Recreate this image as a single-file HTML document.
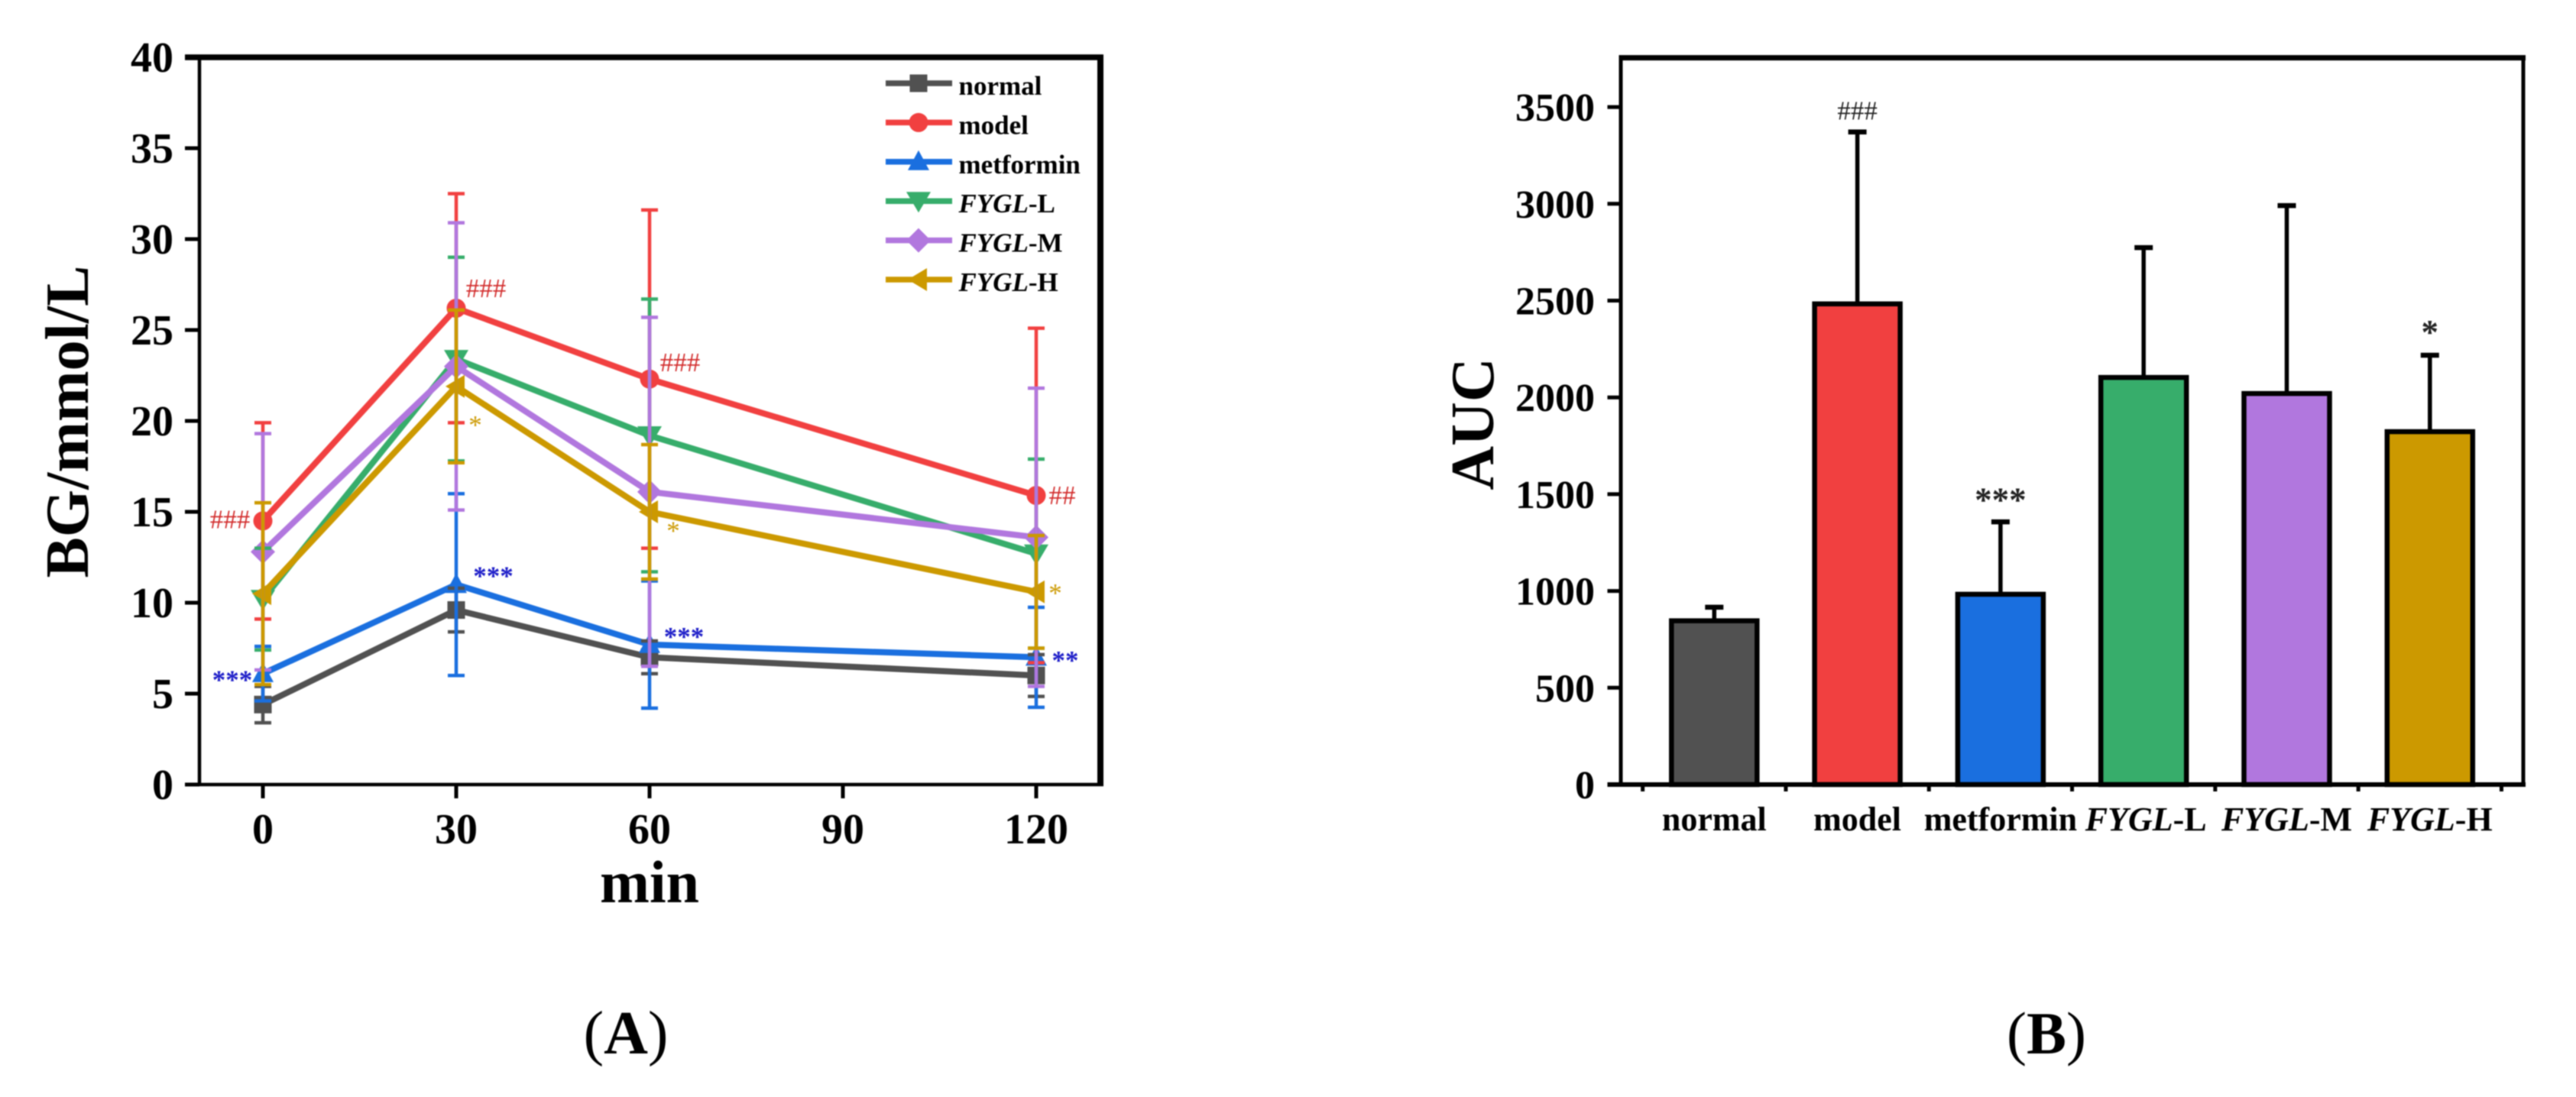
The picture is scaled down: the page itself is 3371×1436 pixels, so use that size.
<!DOCTYPE html>
<html lang="en">
<head>
<meta charset="utf-8">
<title>Blood glucose and AUC charts</title>
<style>
html,body{margin:0;padding:0;background:#fff;}
svg{display:block;font-family:"Liberation Serif",serif;filter:blur(0.7px);}
</style>
</head>
<body>
<svg id="figure" xmlns="http://www.w3.org/2000/svg" width="3371" height="1436" viewBox="0 0 3371 1436">
  <rect x="0" y="0" width="3371" height="1436" fill="#fff"/>
  <g id="panelA"></g>
  <g id="panelB"></g>
  <text transform="translate(115 552) rotate(-90)" text-anchor="middle" font-size="80" font-weight="bold">BG/mmol/L</text>
  <text x="850" y="1181" text-anchor="middle" font-size="78" font-weight="bold">min</text>
  <text transform="translate(1954 555) rotate(-90)" text-anchor="middle" font-size="80" font-weight="bold">AUC</text>
  <text x="819" y="1379" text-anchor="middle" font-size="80">(<tspan font-weight="bold">A</tspan>)</text>
  <text x="2678" y="1379" text-anchor="middle" font-size="78">(<tspan font-weight="bold">B</tspan>)</text>
</svg>
<script>
// ---- Panel A data ----
const timePoints = [0, 30, 60, 120];
const xTickValues = [0, 30, 60, 90, 120];
const yTickValuesA = [0, 5, 10, 15, 20, 25, 30, 35, 40];
const normalMean = [4.4, 9.6, 7.0, 6.0];
const normalErr = [1.0, 1.2, 0.9, 1.15];
const modelMean = [14.5, 26.2, 22.3, 15.9];
const modelErr = [5.4, 6.3, 9.3, 9.2];
const metforminMean = [6.1, 11.0, 7.7, 7.0];
const metforminErr = [1.5, 5.0, 3.5, 2.75];
const lowMean = [10.2, 23.4, 19.2, 12.7];
const lowErr = [2.8, 5.6, 7.5, 5.2];
const midMean = [12.8, 23.0, 16.1, 13.6];
const midErr = [6.5, 7.9, 9.6, 8.2];
const highMean = [10.5, 21.9, 15.0, 10.6];
const highErr = [5.0, 4.2, 3.7, 3.1];
const modelMarks = ['###', '###', '###', '##'];
const metforminMarks = ['***', '***', '***', '**'];
const highMarks = ['', '*', '*', '*'];

// ---- Panel B data ----
const barCategories = ['normal', 'model', 'metformin', 'FYGL-L', 'FYGL-M', 'FYGL-H'];
const barValues = [846, 2483, 983, 2103, 2020, 1823];
const barErrTops = [916, 3371, 1357, 2774, 2991, 2218];
const barMarks = ['', '###', '***', '', '', '*'];
const yTickValuesB = [0, 500, 1000, 1500, 2000, 2500, 3000, 3500];

const NS = 'http://www.w3.org/2000/svg';
function add(parent, tag, attrs, text) {
  const node = document.createElementNS(NS, tag);
  for (const k in attrs) node.setAttribute(k, attrs[k]);
  if (text !== undefined) node.textContent = text;
  parent.appendChild(node);
  return node;
}
function seg(parent, x1, y1, x2, y2, color, w) {
  return add(parent, 'line', {x1: x1, y1: y1, x2: x2, y2: y2, stroke: color, 'stroke-width': w});
}
function fygl(parent, label) {
  const parts = label.split('-');
  if (parts[0] === 'FYGL') {
    const a = add(parent, 'tspan', {'font-style': 'italic'}, 'FYGL');
    
    
    const b = add(parent, 'tspan', {}, '-' + parts[1]);
    
    
  } else {
    parent.textContent = label;
  }
}

// ---- Panel A axes ----
const panelA = document.getElementById('panelA');
const ax = t => 344 + t * 253 / 30;
const ay = v => 1027 - v * 23.8;

const aTop = seg(panelA, 242, ay(40), 1444, ay(40), '#000', 7.5);


const aRight = seg(panelA, 1440, ay(40), 1440, 1029, '#000', 8);


const aLeft = seg(panelA, 261, ay(40), 261, 1029, '#000', 4.5);


const aBottom = seg(panelA, 242, 1027, 1444, 1027, '#000', 4.5);



yTickValuesA.forEach(v => {
  const tick = seg(panelA, 242, ay(v), 261, ay(v), '#000', 5);
  
  
  const lab = add(panelA, 'text', {x: 227, y: ay(v) + 19, 'text-anchor': 'end', 'font-size': 56, 'font-weight': 'bold'}, String(v));
  
  
});
xTickValues.forEach(t => {
  const tick = seg(panelA, ax(t), 1027, ax(t), 1045, '#000', 5);
  
  
  const lab = add(panelA, 'text', {x: ax(t), y: 1104, 'text-anchor': 'middle', 'font-size': 56, 'font-weight': 'bold'}, String(t));
  
  
});

// ---- Panel A series ----
const seriesList = [
  {name: 'normal', label: 'normal', color: '#515151', mean: normalMean, err: normalErr, shape: 'square'},
  {name: 'model', label: 'model', color: '#F14040', mean: modelMean, err: modelErr, shape: 'circle'},
  {name: 'metformin', label: 'metformin', color: '#1A6FDF', mean: metforminMean, err: metforminErr, shape: 'up'},
  {name: 'fygl-l', label: 'FYGL-L', color: '#37AD6B', mean: lowMean, err: lowErr, shape: 'down'},
  {name: 'fygl-m', label: 'FYGL-M', color: '#B177DE', mean: midMean, err: midErr, shape: 'diamond'},
  {name: 'fygl-h', label: 'FYGL-H', color: '#CC9900', mean: highMean, err: highErr, shape: 'left'}
];
function marker(parent, shape, x, y, color) {
  if (shape === 'square') return add(parent, 'rect', {x: x - 11.5, y: y - 11.5, width: 23, height: 23, fill: color});
  if (shape === 'circle') return add(parent, 'circle', {cx: x, cy: y, r: 12.5, fill: color});
  let pts;
  if (shape === 'up') pts = [[x, y - 15], [x + 14, y + 11], [x - 14, y + 11]];
  if (shape === 'down') pts = [[x, y + 15], [x + 16, y - 12], [x - 16, y - 12]];
  if (shape === 'diamond') pts = [[x, y - 16], [x + 16, y], [x, y + 16], [x - 16, y]];
  if (shape === 'left') pts = [[x - 14, y], [x + 11, y - 15], [x + 11, y + 15]];
  return add(parent, 'polygon', {points: pts.map(p => p.join(',')).join(' '), fill: color});
}
seriesList.forEach(s => {
  const points = s.mean.map((v, i) => ax(timePoints[i]) + ',' + ay(v)).join(' ');
  const line = add(panelA, 'polyline', {points: points, fill: 'none', stroke: s.color, 'stroke-width': 8, 'stroke-linejoin': 'miter'});
  
  
  s.mean.forEach((v, i) => {
    const m = marker(panelA, s.shape, ax(timePoints[i]), ay(v), s.color);
    
    
  });
});
seriesList.forEach(s => {
  s.mean.forEach((v, i) => {
    const x = ax(timePoints[i]);
    const g = add(panelA, 'g', {});
    
    
    seg(g, x, ay(v + s.err[i]), x, ay(v - s.err[i]), s.color, 4.5);
    seg(g, x - 11, ay(v + s.err[i]), x + 11, ay(v + s.err[i]), s.color, 4.5);
    seg(g, x - 11, ay(v - s.err[i]), x + 11, ay(v - s.err[i]), s.color, 4.5);
  });
});

// ---- Panel A significance marks ----
function note(text, i, v, dx, dy, color, weight, name) {
  if (!text) return;
  const fs = 35;
  const shift = text[0] === '#' ? 0.33 * fs : 0.47 * fs;
  const n = add(panelA, 'text', {x: ax(timePoints[i]) + dx, y: ay(v) + dy + shift, 'text-anchor': 'middle', 'font-size': fs, 'font-weight': weight, fill: color}, text);
  
  
}
const modelOffsets = [[-43, -2], [39, -26], [40, -22], [34, 0]];
const metforminOffsets = [[-40, 3], [48.5, -16], [45, -15], [38, -1]];
const highOffsets = [[0, 0], [25, 46], [31, 20], [25, -3]];
modelMarks.forEach((t, i) => note(t, i, modelMean[i], modelOffsets[i][0], modelOffsets[i][1], '#D22B2B', 'normal', 'model'));
metforminMarks.forEach((t, i) => note(t, i, metforminMean[i], metforminOffsets[i][0], metforminOffsets[i][1], '#1C1CC8', 'bold', 'metformin'));
highMarks.forEach((t, i) => note(t, i, highMean[i], highOffsets[i][0], highOffsets[i][1], '#CC9900', 'normal', 'fygl-h'));

// ---- Panel A legend ----
const legend = add(panelA, 'g', {});


seriesList.forEach((s, i) => {
  const y = 109 + i * 51.4;
  const row = add(legend, 'g', {});
  
  
  const sw = seg(row, 1159, y, 1246, y, s.color, 7.5);
  
  
  const mk = marker(row, s.shape, 1202, y, s.color);
  
  
  const tx = add(row, 'text', {x: 1254.5, y: y + 15, 'font-size': 35, 'font-weight': 'bold'});
  
  
  fygl(tx, s.label);
});

// ---- Panel B axes ----
const panelB = document.getElementById('panelB');
const by = v => 1027 - v * 0.2534;
const bx = i => 2243.3 + i * 187.3;
const barColors = ['#515151', '#F14040', '#1A6FDF', '#37AD6B', '#B177DE', '#CC9900'];

const bTop = seg(panelB, 2118.5, 75.6, 3305, 75.6, '#000', 7);


const bRight = seg(panelB, 3302, 75.6, 3302, 1030, '#000', 5);


const bLeft = seg(panelB, 2121, 75.6, 2121, 1030, '#000', 5);



barCategories.forEach((c, i) => {
  const key = c.toLowerCase();
  const err = seg(panelB, bx(i), by(barErrTops[i]), bx(i), by(barValues[i]), '#000', 5.5);
  
  
  const cap = seg(panelB, bx(i) - 12, by(barErrTops[i]), bx(i) + 12, by(barErrTops[i]), '#000', 6.5);
  
  
  const bar = add(panelB, 'rect', {x: bx(i) - 56, y: by(barValues[i]), width: 112, height: by(0) - by(barValues[i]), fill: barColors[i], stroke: '#000', 'stroke-width': 6.5});
  
  
  const lab = add(panelB, 'text', {x: bx(i) + (i === 3 ? 3 : 0), y: 1087, 'text-anchor': 'middle', 'font-size': 44, 'font-weight': 'bold'});
  
  
  fygl(lab, c);
  if (barMarks[i]) {
    const isHash = barMarks[i][0] === '#';
    const fs = isHash ? 35 : 45;
    const gap = isHash ? 28 : (barMarks[i].length === 3 ? 35 : 36);
    const mark = add(panelB, 'text', {x: bx(i), y: by(barErrTops[i]) - gap + (isHash ? 0.33 * fs : 0.47 * fs), 'text-anchor': 'middle', 'font-size': fs, 'font-weight': isHash ? 'normal' : 'bold', fill: '#222'}, barMarks[i]);
    
    
  }
});
const bBottom = seg(panelB, 2103.5, 1027, 3305, 1027, '#000', 6);


for (let i = 0; i <= barCategories.length; i++) {
  const t = seg(panelB, bx(i) - 93.65, 1027, bx(i) - 93.65, 1036, '#000', 5);
  
  
}
yTickValuesB.forEach(v => {
  const tick = seg(panelB, 2103.5, by(v), 2121, by(v), '#000', 5);
  
  
  const lab = add(panelB, 'text', {x: 2087, y: by(v) + 18, 'text-anchor': 'end', 'font-size': 52, 'font-weight': 'bold'}, String(v));
  
  
});
</script>
</body>
</html>
